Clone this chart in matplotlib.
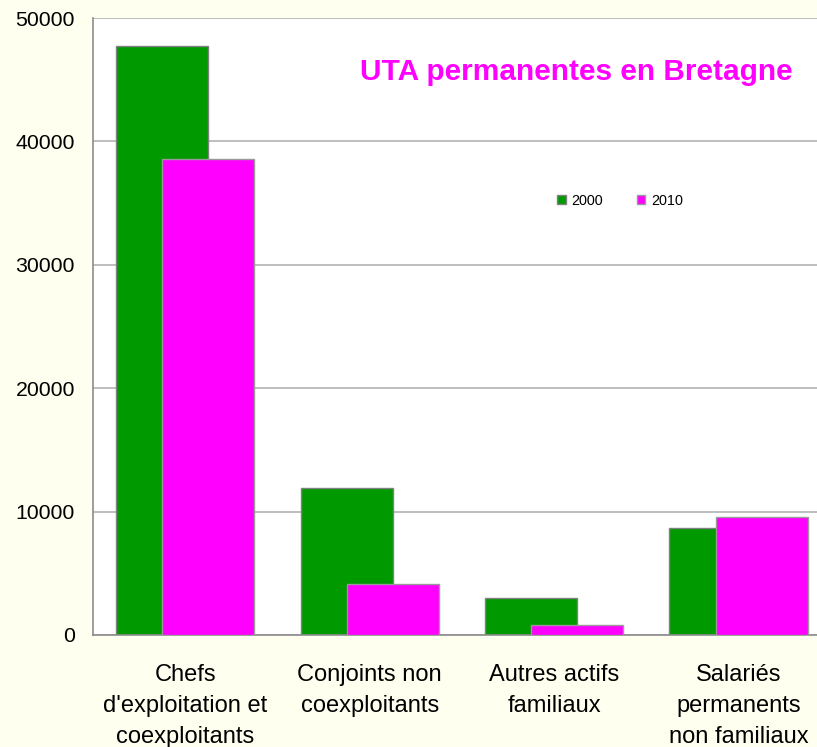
import matplotlib.pyplot as plt
import numpy as np

plt.rcParams['font.family'] = ['Liberation Sans', 'DejaVu Sans']

categories = ["Chefs\nd'exploitation et\ncoexploitants", "Conjoints non\ncoexploitants",
              "Autres actifs\nfamiliaux", "Salariés\npermanents\nnon familiaux"]
uta_2000 = [47700, 11900, 3000, 8650]
uta_2010 = [38550, 4150, 800, 9550]

fig = plt.figure(figsize=(8.17, 7.47), dpi=100)
fig.patch.set_facecolor('#FFFFF0')
ax = fig.add_axes([93 / 817, 1 - 635 / 747, 1 - 93 / 817, (635 - 18) / 747])
ax.set_facecolor('white')

x = np.arange(len(categories))
w = 0.5
ax.bar(x - 0.125, uta_2000, w, color='#009900', edgecolor='#808080', linewidth=1, label='2000', zorder=2)
ax.bar(x + 0.125, uta_2010, w, color='#FF00FF', edgecolor='#999999', linewidth=1, label='2010', zorder=3)

ax.set_xlim(-0.5, 3.425)
ax.set_ylim(0, 50000)
ax.set_yticks(range(0, 50001, 10000))
ax.yaxis.grid(True, color='#B3B3B3', linewidth=1.2, zorder=0)
ax.set_axisbelow(True)
ax.tick_params(axis='y', length=0, pad=13, labelsize=15.3)
ax.tick_params(axis='x', length=0, pad=21, labelsize=17)
ax.set_xticks(x)
ax.set_xticklabels(categories, linespacing=1.52)
for s in ['top', 'right']:
    ax.spines[s].set_visible(False)
for s in ['left', 'bottom']:
    ax.spines[s].set_color('#8C8C8C')
    ax.spines[s].set_linewidth(1.2)

ax.text(0.967, 0.913, 'UTA permanentes en Bretagne', transform=ax.transAxes, ha='right', va='center',
        fontsize=21.5, fontweight='bold', color='#FF00FF')

ax.legend(loc='center', bbox_to_anchor=(0.728, 0.704), ncol=2, frameon=False, fontsize=10.4,
          handlelength=0.6, handleheight=0.6, handletextpad=0.4, columnspacing=2.32)

fig.savefig('out.png', dpi=100, facecolor=fig.get_facecolor())
